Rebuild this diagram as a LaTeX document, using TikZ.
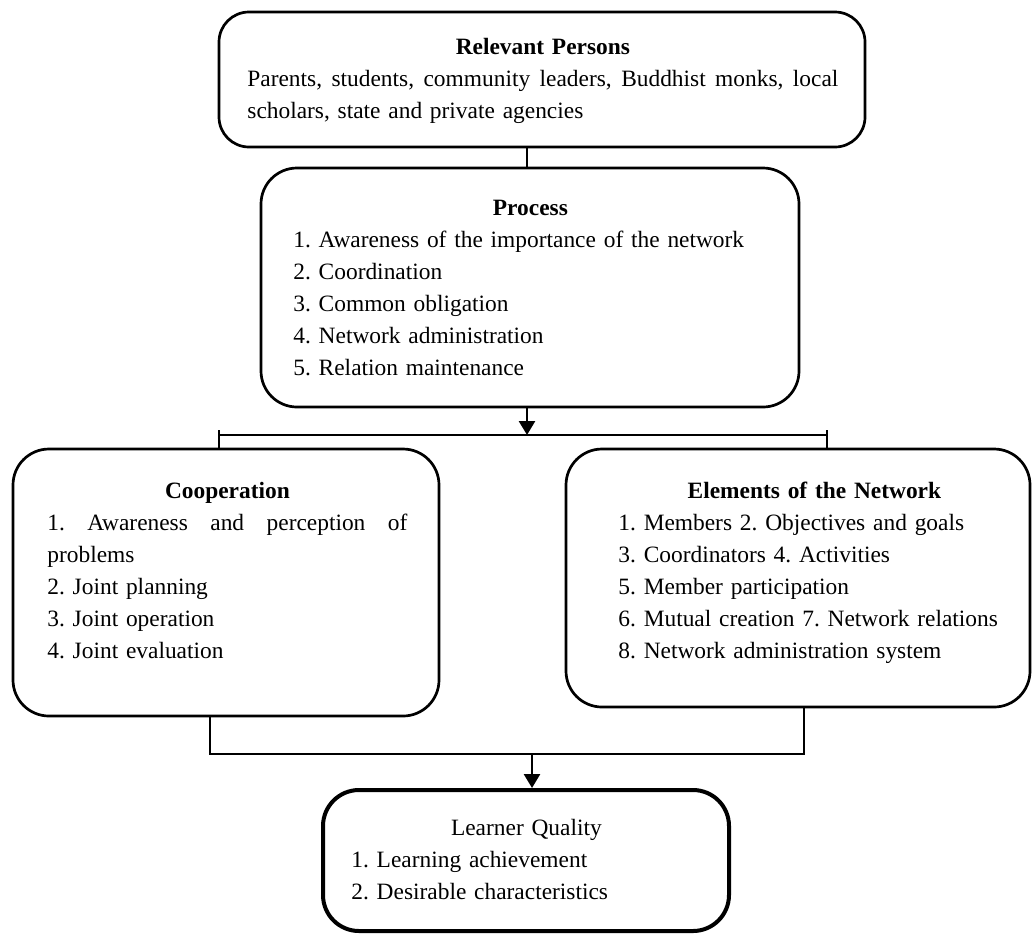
\documentclass[tikz,border=0pt]{standalone}
\usepackage{fontspec}
\setmainfont{Liberation Serif}
\usetikzlibrary{arrows.meta}
\begin{document}
\begin{tikzpicture}[x=0.5pt,y=-0.5pt,
    box/.style={draw,rounded corners=18pt,line width=1.35pt,inner sep=0pt},
    txt/.style={anchor=base west,inner sep=0pt,font=\fontsize{11.7}{16}\selectfont\frenchspacing},
    conn/.style={line width=1.3pt},
    arr/.style={line width=1.3pt,-{Triangle[width=8pt,length=7pt]}}]
    \useasboundingbox (0,0) rectangle (1032,933);
    % boxes
    \node[box,rounded corners=15pt,minimum width=323pt,minimum height=67.5pt] (rel) at (542,79.5) {};
    \node[box,minimum width=269pt,minimum height=119.5pt] (proc) at (530,287.5) {};
    \node[box,minimum width=213pt,minimum height=133.5pt] (coop) at (226,582.5) {};
    \node[box,minimum width=232pt,minimum height=129pt] (elem) at (798,578) {};
    \node[box,line width=2pt,minimum width=203pt,minimum height=70.5pt] (learn) at (526,860.5) {};
    % texts
    \node[txt,text width=295.5pt] (reltxt) at (247,54) {{\centering\textbf{Relevant Persons}\par}
        \hbox to 295.5pt{Parents,\hfill students,\hfill community\hfill leaders,\hfill Buddhist\hfill monks,\hfill local}\par
        scholars, state and private agencies};
    \node[txt,text width=237pt] (proctxt) at (293,215) {{\centering\textbf{Process}\par}\raggedright
        1. Awareness of the importance of the network\\
        2. Coordination\\
        3. Common obligation\\
        4. Network administration\\
        5. Relation maintenance};
    \node[txt,text width=180pt] (cooptxt) at (47,498) {{\centering\textbf{Cooperation}\par}
        \hbox to 180pt{1.\hfill Awareness\hfill and\hfill perception\hfill of}\par\raggedright
        problems\\
        2. Joint planning\\
        3. Joint operation\\
        4. Joint evaluation};
    \node[txt,text width=196pt] (elemtxt) at (618,498) {{\centering\textbf{Elements of the Network}\par}\raggedright
        1. Members 2. Objectives and goals\\
        3. Coordinators 4. Activities\\
        5. Member participation\\
        6. Mutual creation 7. Network relations\\
        8. Network administration system};
    \node[txt,text width=175pt] (learntxt) at (351,835) {{\centering Learner Quality\par}\raggedright
        1. Learning achievement\\
        2. Desirable characteristics};
    % connectors
    \coordinate (c1) at (527,0);
    \coordinate (barL) at (219,435);
    \coordinate (barM) at (527,435);
    \coordinate (barR) at (827,435);
    \coordinate (jL) at (210,754);
    \coordinate (jM) at (532,754);
    \coordinate (jR) at (804,754);
    \draw[conn] (c1 |- rel.south) -- (c1 |- proc.north);
    \draw[arr] (c1 |- proc.south) -- (barM);
    \draw[conn] (barL) -- (barR);
    \draw[conn] ([yshift=2.5pt]barL) -- (barL |- coop.north);
    \draw[conn] ([yshift=2.5pt]barR) -- (barR |- elem.north);
    \draw[conn] (jL |- coop.south) -- (jL) -- (jR) -- (jR |- elem.south);
    \draw[arr] (jM) -- (jM |- learn.north);
\end{tikzpicture}
\end{document}
